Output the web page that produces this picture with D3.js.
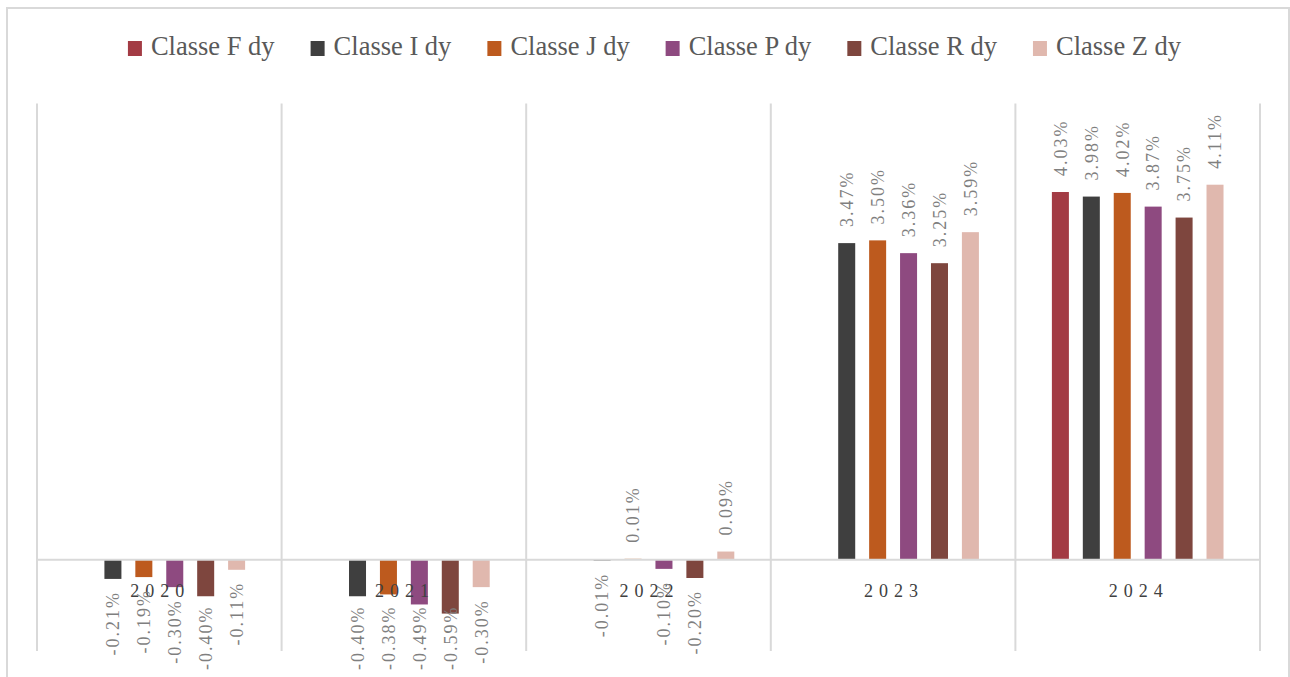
<!DOCTYPE html>
<html>
<head>
<meta charset="utf-8">
<script src="https://cdn.jsdelivr.net/npm/d3@7"></script>
<style>
body { margin: 0; background: #fff; }
svg { display: block; }
.label { font-family: "Liberation Serif", serif; }
</style>
</head>
<body>
<svg id="chart" width="1290" height="677"></svg>
<script>
var years = ["2020", "2021", "2022", "2023", "2024"];
var series = ["Classe F dy", "Classe I dy", "Classe J dy", "Classe P dy", "Classe R dy", "Classe Z dy"];
var colors = ["#a33b44", "#3f3f3f", "#bd5a1e", "#8e4a80", "#7e463e", "#e0b8ae"];
var classeF = [null, null, null, null, 4.03];
var classeI = [-0.21, -0.40, -0.01, 3.47, 3.98];
var classeJ = [-0.19, -0.38, 0.01, 3.50, 4.02];
var classeP = [-0.30, -0.49, -0.10, 3.36, 3.87];
var classeR = [-0.40, -0.59, -0.20, 3.25, 3.75];
var classeZ = [-0.11, -0.30, 0.09, 3.59, 4.11];
var values = [classeF, classeI, classeJ, classeP, classeR, classeZ];

var svg = d3.select("#chart"),
    margin = {top: 103.5, right: 30, bottom: 26, left: 37},
    width = +svg.attr("width") - margin.left - margin.right,
    height = +svg.attr("height") - margin.top - margin.bottom;

// outer frame
svg.append("rect")
    .attr("x", 7).attr("y", 8)
    .attr("width", 1282).attr("height", 720)
    .attr("fill", "none")
    .attr("stroke", "#d9d9d9")
    .attr("stroke-width", 2);

var g = svg.append("g").attr("transform", "translate(" + margin.left + "," + margin.top + ")");

var x0 = d3.scaleBand().domain(years).range([0, width]);
var x1 = d3.scaleBand().domain(series).range([0, x0.bandwidth()])
    .paddingInner(0.45).paddingOuter(1.18);
var y = d3.scaleLinear().domain([-1, 5]).range([height, 0]);

// vertical category separators
var edges = years.map(function(d) { return x0(d); }).concat([width]);
g.selectAll(".sep")
  .data(edges)
  .enter().append("line")
    .attr("x1", function(d) { return d; })
    .attr("x2", function(d) { return d; })
    .attr("y1", 0).attr("y2", height)
    .attr("stroke", "#d9d9d9")
    .attr("stroke-width", 2);

var rows = [];
years.forEach(function(yr, i) {
  series.forEach(function(s, j) {
    if (values[j][i] !== null) rows.push({year: yr, series: s, idx: j, value: values[j][i]});
  });
});

g.selectAll(".bar")
  .data(rows)
  .enter().append("rect")
    .attr("class", "bar")
    .attr("x", function(d) { return x0(d.year) + x1(d.series); })
    .attr("width", x1.bandwidth())
    .attr("y", function(d) { return y(Math.max(0, d.value)); })
    .attr("height", function(d) { return Math.abs(y(d.value) - y(0)); })
    .attr("fill", function(d) { return colors[d.idx]; });

// zero line
g.append("line")
    .attr("x1", 0).attr("x2", width)
    .attr("y1", y(0)).attr("y2", y(0))
    .attr("stroke", "#d9d9d9")
    .attr("stroke-width", 2);

// category labels
g.selectAll(".year")
  .data(years)
  .enter().append("text")
    .attr("class", "label")
    .attr("x", function(d) { return x0(d) + x0.bandwidth() / 2 + 1; })
    .attr("y", y(0) + 37.5)
    .attr("text-anchor", "middle")
    .attr("fill", "#404040")
    .style("font-size", "18px")
    .style("letter-spacing", "6px")
    .text(function(d) { return d; });

// value labels (rotated, start at bottom)
var maxBottom = 670 - margin.top;
var labels = g.selectAll(".val")
  .data(rows)
  .enter().append("text")
    .attr("class", "label")
    .attr("dy", "0.35em")
    .attr("fill", "#7f7f7f")
    .style("font-size", "18px")
    .style("letter-spacing", "2px")
    .text(function(d) { return (d.value < 0 ? "-" : "") + d3.format(".2f")(Math.abs(d.value)) + "%"; });

labels.attr("transform", function(d) {
  var cx = x0(d.year) + x1(d.series) + x1.bandwidth() / 2;
  var yy;
  if (d.value >= 0) {
    yy = y(d.value) - 16;
  } else {
    yy = Math.min(y(d.value) + 12 + this.getComputedTextLength(), maxBottom);
  }
  return "translate(" + cx + "," + yy + ") rotate(-90)";
});

// legend
var legend = svg.append("g").attr("transform", "translate(0,47)");
var items = legend.selectAll(".item")
  .data(series)
  .enter().append("g")
    .attr("class", "item");
items.append("rect")
    .attr("width", 14).attr("height", 15)
    .attr("y", -6)
    .attr("fill", function(d, i) { return colors[i]; });
items.append("text")
    .attr("class", "label")
    .attr("x", 23)
    .attr("y", 8)
    .attr("fill", "#595959")
    .style("font-size", "26.5px")
    .text(function(d) { return d; });

var pos = 0, offsets = [];
items.each(function() {
  offsets.push(pos);
  pos += 23 + this.querySelector("text").getComputedTextLength() + 36;
});
var total = pos - 36, start = 654.5 - total / 2;
items.attr("transform", function(d, i) { return "translate(" + (start + offsets[i]) + ",0)"; });
</script>
</body>
</html>
